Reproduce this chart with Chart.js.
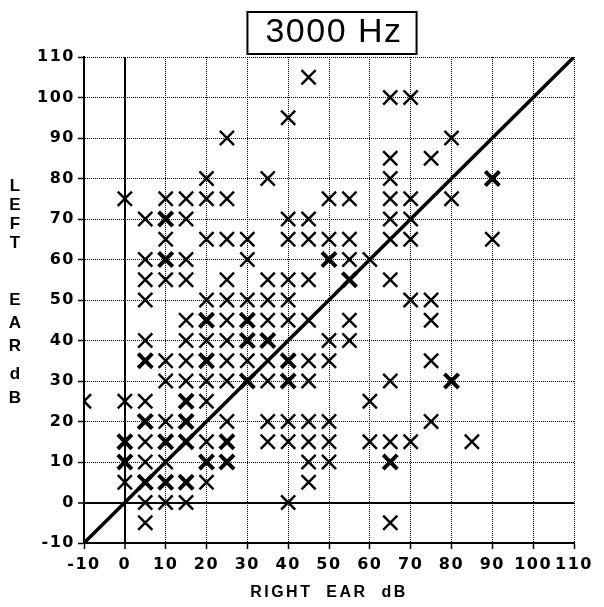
<!DOCTYPE html>
<html>
<head>
<meta charset="utf-8">
<script src="https://cdn.jsdelivr.net/npm/chart.js@4/dist/chart.umd.min.js"></script>
<style>
  html, body { margin: 0; padding: 0; background: #fff; }
  #wrap { width: 604px; height: 607px; }
</style>
</head>
<body>
<div id="wrap"><canvas id="hearing3000"></canvas></div>
<script>
// Left ear threshold levels (dB), one row per level
const leftEarLevels = [105, 100, 95, 90, 85, 80, 75, 70, 65, 60, 55, 50, 45, 40, 35, 30, 25, 20, 15, 10, 5, 0, -5];

// Right ear thresholds of the subjects at each left ear level.
// A value listed twice = more than one subject on that spot (heavier cross).
const rightEarAtLevel = [
  [45],
  [65, 70],
  [40],
  [25, 80],
  [65, 75],
  [20, 35, 65, 90, 90],
  [0, 10, 15, 20, 25, 50, 55, 65, 70, 80],
  [5, 10, 10, 15, 40, 45, 65, 70],
  [10, 20, 25, 30, 40, 45, 50, 55, 65, 70, 90],
  [5, 10, 10, 15, 30, 50, 50, 55, 60],
  [5, 10, 15, 25, 35, 40, 45, 55, 55, 65],
  [5, 20, 25, 30, 35, 40, 70, 75],
  [15, 20, 20, 25, 30, 30, 35, 40, 45, 55, 75],
  [5, 15, 20, 25, 30, 30, 35, 35, 50, 55],
  [5, 5, 10, 15, 20, 20, 25, 30, 35, 40, 40, 45, 50, 75],
  [10, 15, 20, 25, 30, 30, 35, 40, 40, 45, 65, 80, 80],
  [-10, 0, 5, 15, 15, 20, 60],
  [5, 5, 10, 15, 15, 25, 35, 40, 45, 50, 75],
  [0, 0, 5, 10, 10, 15, 15, 20, 25, 25, 35, 40, 45, 50, 60, 65, 70, 85],
  [0, 0, 5, 10, 20, 20, 25, 25, 45, 50, 65, 65],
  [0, 5, 5, 10, 10, 15, 15, 20, 45],
  [5, 10, 15, 40],
  [5, 65]
];

// Axis range shared by both ears
const axisMin = -10;
const axisMax = 110;
const axisStep = 10;

const titleText = '3000 Hz';
const xTitleText = 'RIGHT  EAR  dB';
const yTitleWords = ['LEFT', 'EAR', 'dB'];

// Merge identical points and remember how many subjects share each one
const counts = {};
leftEarLevels.forEach((level, i) => {
  rightEarAtLevel[i].forEach(right => {
    const key = right + '|' + level;
    counts[key] = (counts[key] || 0) + 1;
  });
});
const points = Object.keys(counts).map(key => {
  const [x, y] = key.split('|').map(Number);
  return {x: x, y: y, n: counts[key]};
});

const tickFont = {family: '"DejaVu Sans", sans-serif', size: 16, weight: 'bold'};

/** Dotted grid, but solid lines through zero */
function gridDash(ctx) {
  if (ctx.tick && ctx.tick.value === 0) {
    return [];
  }
  return ctx.tick ? [1, 1] : [];
}

function gridWidth(ctx) {
  return ctx.tick && ctx.tick.value === 0 ? 2 : 1;
}

/** Draws the boxed title, the axis titles and sets letter spacing */
const decorations = {
  id: 'decorations',
  beforeDraw(chart) {
    chart.ctx.letterSpacing = '1.5px';
  },
  afterDraw(chart) {
    const ctx = chart.ctx;
    const area = chart.chartArea;
    const midX = (area.left + area.right) / 2;
    ctx.save();
    ctx.fillStyle = '#000';
    ctx.strokeStyle = '#000';

    // boxed title
    ctx.letterSpacing = '1.5px';
    ctx.font = '34px "Liberation Sans", Arial, sans-serif';
    ctx.textAlign = 'center';
    ctx.textBaseline = 'middle';
    ctx.fillText(titleText, midX + 5, 33);
    const w = ctx.measureText(titleText).width;
    ctx.lineWidth = 2;
    ctx.strokeRect(midX + 3 - w / 2 - 16, 12, w + 32, 42);

    // x axis title
    ctx.letterSpacing = '2.5px';
    ctx.font = 'bold 16px "Liberation Sans", Arial, sans-serif';
    ctx.fillText(xTitleText, midX, 593);

    // y axis title, letters stacked
    ctx.font = 'bold 17px "Liberation Sans", Arial, sans-serif';
    ctx.letterSpacing = '0px';
    const starts = [186, 300, 374];
    const steps = [19, 23, 24];
    yTitleWords.forEach((word, i) => {
      word.split('').forEach((ch, j) => {
        ctx.fillText(ch, 15, starts[i] + j * steps[i]);
      });
    });
    ctx.restore();
    chart.ctx.letterSpacing = '0px';
  }
};

const ctx = document.getElementById('hearing3000');
const hearingChart = new Chart(ctx, {
  type: 'scatter',
  data: {
    datasets: [
      {
        // the crosses
        data: points,
        pointStyle: 'crossRot',
        pointRadius: 10,
        pointHoverRadius: 10,
        borderColor: '#000',
        backgroundColor: '#000',
        pointBorderWidth: c => (c.raw && c.raw.n > 1 ? 4 : 2.4)
      },
      {
        // equal hearing line
        data: [{x: axisMin, y: axisMin}, {x: axisMax, y: axisMax}],
        showLine: true,
        pointRadius: 0,
        borderColor: '#000',
        borderWidth: 3.5
      }
    ]
  },
  options: {
    responsive: true,
    maintainAspectRatio: false,
    animation: false,
    layout: {padding: {top: 57, right: 30, left: 0, bottom: 0}},
    plugins: {
      legend: {display: false},
      tooltip: {enabled: false}
    },
    scales: {
      x: {
        type: 'linear',
        min: axisMin,
        max: axisMax,
        afterFit: s => { s.height = 64; },
        ticks: {stepSize: axisStep, autoSkip: false, maxRotation: 0, color: '#000', font: tickFont, padding: 6},
        grid: {color: '#000', lineWidth: gridWidth, tickLength: 6, tickColor: '#000', tickWidth: 1.5, tickBorderDash: []},
        border: {display: true, color: '#000', width: 2, dash: gridDash}
      },
      y: {
        type: 'linear',
        min: axisMin,
        max: axisMax,
        afterFit: s => { s.width = 84; },
        ticks: {stepSize: axisStep, autoSkip: false, color: '#000', font: tickFont, padding: 3},
        grid: {color: '#000', lineWidth: gridWidth, tickLength: 6, tickColor: '#000', tickWidth: 1.5, tickBorderDash: []},
        border: {display: true, color: '#000', width: 2, dash: gridDash}
      }
    }
  },
  plugins: [decorations]
});
</script>
</body>
</html>
